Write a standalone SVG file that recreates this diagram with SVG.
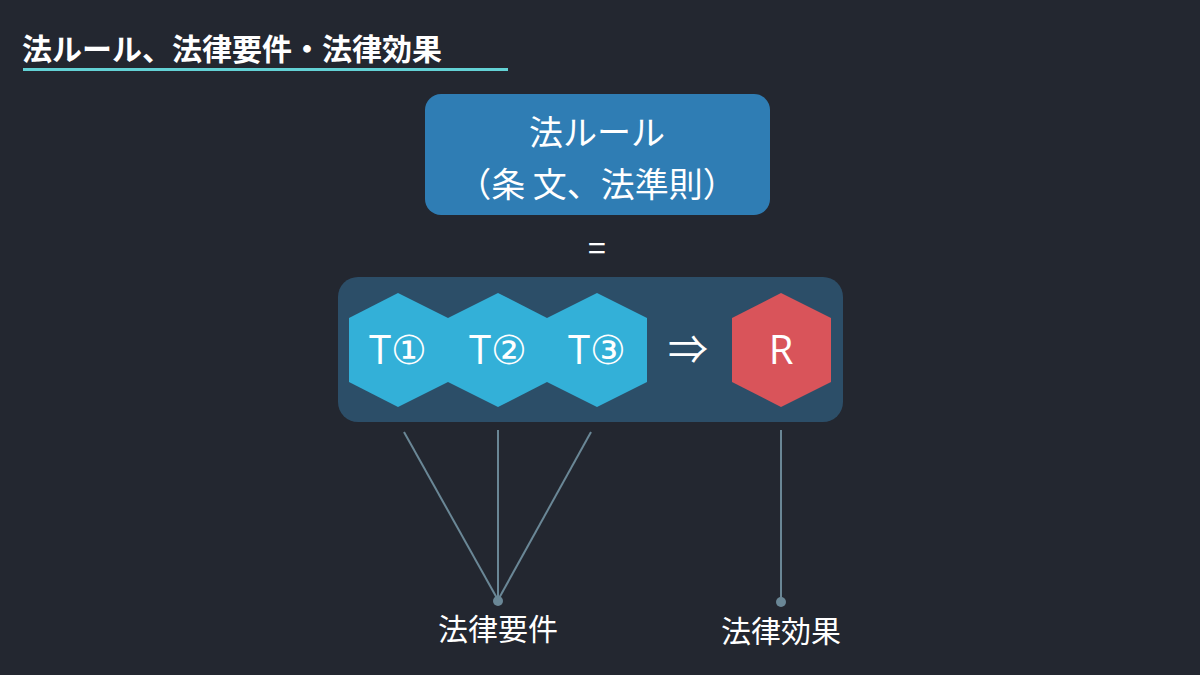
<svg xmlns="http://www.w3.org/2000/svg" width="1200" height="675" viewBox="0 0 1200 675">
<style>
text{font-family:"Noto Sans CJK JP","Noto Sans",sans-serif;fill:#fff}
.hex{fill:#33b0d8}
.ln{stroke:#6a8796;stroke-width:2;fill:none}
.lbl{font-size:30px;text-anchor:middle}
.h{font-size:40px;text-anchor:middle;font-family:"Open Sans","Noto Sans",sans-serif;font-weight:500}
</style>
<rect width="1200" height="675" fill="#232730"/>
<g id="title">
<text x="22" y="60" font-size="30" font-weight="bold">法ルール、法律要件・法律効果</text>
<rect x="23" y="68" width="485" height="3" fill="#63d2d5"/>
</g>
<g id="rule">
<rect x="425" y="94" width="345" height="121" rx="16" fill="#2f7db4"/>
<text x="597" y="145" font-size="34" text-anchor="middle">法ルール</text>
<text x="597" y="197" font-size="34" text-anchor="middle">（条 文、法準則）</text>
</g>
<g id="eq"><text x="597" y="260" font-size="32" text-anchor="middle" font-family="Liberation Sans,sans-serif">=</text></g>
<g id="container"><rect x="338" y="277" width="505" height="145" rx="20" fill="#2c4e68"/></g>
<g id="t1"><polygon class="hex" points="398,293 448,318 448,382 398,407 349,382 349,318"/><text class="h" x="398" y="364">T①</text></g>
<g id="t2"><polygon class="hex" points="498,293 547,318 547,382 498,407 448,382 448,318"/><text class="h" x="498" y="364">T②</text></g>
<g id="t3"><polygon class="hex" points="597,293 647,318 647,382 597,407 547,382 547,318"/><text class="h" x="597" y="364">T③</text></g>
<g id="arrow"><text x="688" y="364" font-size="40" text-anchor="middle" font-family="DejaVu Sans,sans-serif">⇒</text></g>
<g id="r"><polygon points="781,293 831,318 831,382 781,407 732,382 732,318" fill="#d9545a"/><text class="h" x="781" y="364">R</text></g>
<g id="connectors">
<line class="ln" x1="404" y1="432" x2="498" y2="600"/>
<line class="ln" x1="498" y1="430" x2="498" y2="600"/>
<line class="ln" x1="591" y1="432" x2="498" y2="600"/>
<line class="ln" x1="781" y1="430" x2="781" y2="602"/>
<circle cx="498" cy="601" r="5" fill="#6a8796"/>
<circle cx="781" cy="602" r="5" fill="#6a8796"/>
</g>
<g id="req"><text class="lbl" x="498" y="640">法律要件</text></g>
<g id="eff"><text class="lbl" x="781" y="642">法律効果</text></g>
</svg>
